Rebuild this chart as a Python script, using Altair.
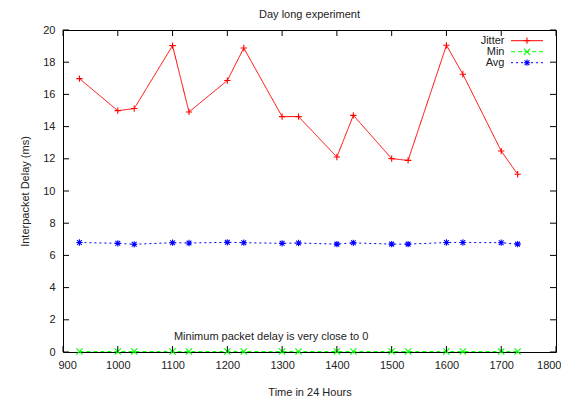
import altair as alt
import pandas as pd

# ---- data ----
times = [930, 1000, 1030, 1100, 1130, 1200, 1230, 1300, 1330, 1400, 1430, 1500, 1530, 1600, 1630, 1700, 1730]
jitter = [16.98, 14.99, 15.12, 19.03, 14.91, 16.86, 18.88, 14.62, 14.62, 12.11, 14.70, 12.01, 11.90, 19.05, 17.25, 12.48, 11.04]
min_delay = [0.03, 0.03, 0.03, 0.03, 0.03, 0.03, 0.03, 0.03, 0.03, 0.03, 0.03, 0.03, 0.03, 0.03, 0.03, 0.03, 0.03]
avg = [6.80, 6.75, 6.69, 6.79, 6.77, 6.81, 6.79, 6.75, 6.77, 6.70, 6.78, 6.70, 6.70, 6.80, 6.80, 6.79, 6.70]

series_names = ["Jitter", "Min", "Avg"]
series_colors = ["#ff0000", "#00ff00", "#0000ff"]
series_dash = [[1, 0], [4, 3], [2, 3]]
shape_plus = "M-1,0L1,0M0,-1L0,1"
shape_x = "M-1,-1L1,1M-1,1L1,-1"
shape_star = "M-1,0L1,0M0,-1L0,1M-0.75,-0.75L0.75,0.75M-0.75,0.75L0.75,-0.75"
series_shapes = [shape_plus, shape_x, shape_star]

x_ticks = [900, 1000, 1100, 1200, 1300, 1400, 1500, 1600, 1700, 1800]
y_ticks = [0, 2, 4, 6, 8, 10, 12, 14, 16, 18, 20]

title_text = "Day long experiment"
x_title = "Time in 24 Hours"
y_title = "Interpacket Delay (ms)"
note_text = "Minimum packet delay is very close to 0"
note_x = [1280]
note_y = [0.95]

FONT = "Liberation Sans"
W, H = 493, 322

rows = []
for name, vals in zip(series_names, [jitter, min_delay, avg]):
    for t, v in zip(times, vals):
        rows.append({"time": t, "value": v, "series": name})
df = pd.DataFrame(rows)

xscale = alt.Scale(domain=[900, 1800], nice=False, zero=False)
yscale = alt.Scale(domain=[0, 20], nice=False)

xaxis = alt.Axis(values=x_ticks, format="d", ticks=False, domain=False, grid=False,
                 labelPadding=7, labelFlush=True, labelFlushOffset=5, labelOverlap=False,
                 title=x_title, titlePadding=16)
yaxis = alt.Axis(values=y_ticks, format="d", ticks=False, domain=False, grid=False,
                 labelPadding=8, labelFlush=False, labelOverlap=False,
                 title=y_title, titlePadding=12)
xenc = alt.X("time:Q", scale=xscale, axis=xaxis)
yenc = alt.Y("value:Q", scale=yscale, axis=yaxis)

color = alt.Color("series:N", scale=alt.Scale(domain=series_names, range=series_colors), legend=None)
dash = alt.StrokeDash("series:N", scale=alt.Scale(domain=series_names, range=series_dash), legend=None)
shape = alt.Shape("series:N", scale=alt.Scale(domain=series_names, range=series_shapes), legend=None)

lines = alt.Chart(df).mark_line(strokeWidth=1).encode(x=xenc, y=yenc, color=color, strokeDash=dash,
                                                       detail="series:N")
points = alt.Chart(df).mark_point(filled=False, size=40, strokeWidth=1.1, opacity=1).encode(
    x=xenc, y=yenc, color=color, shape=shape)

# inward ticks on all four sides
xt = pd.DataFrame({"time": x_ticks})
yt = pd.DataFrame({"value": y_ticks})
tick_style = dict(color="black", strokeWidth=1)
xt_bottom = alt.Chart(xt).mark_rule(**tick_style).encode(x=xenc, y=alt.value(H), y2=alt.value(H - 6))
xt_top = alt.Chart(xt).mark_rule(**tick_style).encode(x=xenc, y=alt.value(0), y2=alt.value(6))
yt_left = alt.Chart(yt).mark_rule(**tick_style).encode(y=yenc, x=alt.value(0), x2=alt.value(6))
yt_right = alt.Chart(yt).mark_rule(**tick_style).encode(y=yenc, x=alt.value(W), x2=alt.value(W - 6))

note = alt.Chart(pd.DataFrame({"time": note_x, "value": note_y, "t": [note_text]})).mark_text(
    font=FONT, fontSize=11, color="#222222", align="center", baseline="middle").encode(
    x=xenc, y=yenc, text="t:N")

# gnuplot-style key, top right inside the plot
legend_layers = []
for i, (name, col, dsh, shp) in enumerate(zip(series_names, series_colors, series_dash, series_shapes)):
    ly = 10.7 + i * 11
    ldf = pd.DataFrame({"label": [name]})
    legend_layers.append(alt.Chart(ldf).mark_text(font=FONT, fontSize=11, color="#222222", align="right",
                                                  baseline="middle").encode(
        text="label:N", x=alt.value(441.5), y=alt.value(ly)))
    legend_layers.append(alt.Chart(ldf).mark_rule(color=col, strokeWidth=1, strokeDash=dsh).encode(
        x=alt.value(448), x2=alt.value(480), y=alt.value(ly)))
    legend_layers.append(alt.Chart(ldf).mark_point(shape=shp, filled=False, size=40, strokeWidth=1.1,
                                                   color=col, opacity=1).encode(
        x=alt.value(464), y=alt.value(ly)))

chart = alt.layer(lines, points, xt_bottom, xt_top, yt_left, yt_right, note, *legend_layers).properties(
    width=W, height=H,
    title=alt.TitleParams(title_text, font=FONT, fontSize=11, fontWeight="normal", color="#222222",
                          offset=4.5, anchor="middle"),
    autosize=alt.AutoSizeParams(type="none"),
    padding={"left": 55, "top": 22, "right": 5, "bottom": 45},
).configure_view(stroke="black", strokeWidth=1).configure_axis(
    labelFont=FONT, labelFontSize=11, labelColor="#222222",
    titleFont=FONT, titleFontSize=11, titleFontWeight="normal", titleColor="#222222",
)

chart.save("out.html", embed_options={"renderer": "svg", "actions": False})
